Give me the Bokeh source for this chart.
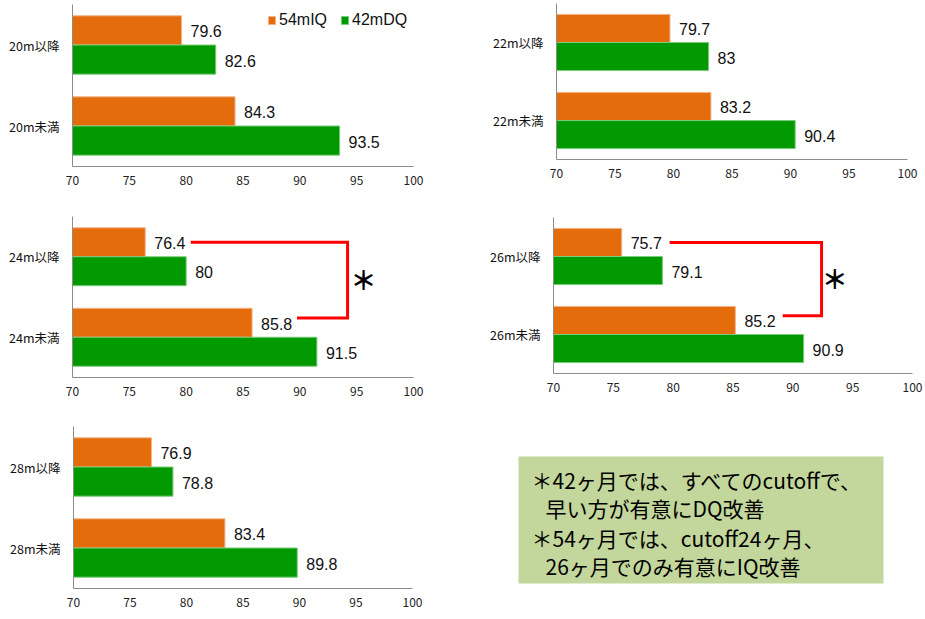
from bokeh.plotting import figure
from bokeh.layouts import row, column
from bokeh.models import Range1d, FixedTicker, Legend, LegendItem
from bokeh.embed import file_html
from bokeh.resources import INLINE
from bokeh.core.properties import value

# ---------------- data ----------------
cutoffs = ["20m", "22m", "24m", "26m", "28m"]
groups = ["未満", "以降"]                      # bottom -> top
series_names = ["54mIQ", "42mDQ"]
iq54_before = [84.3, 83.2, 85.8, 85.2, 83.4]   # 未満
iq54_after = [79.6, 79.7, 76.4, 75.7, 76.9]    # 以降
dq42_before = [93.5, 90.4, 91.5, 90.9, 89.8]
dq42_after = [82.6, 83.0, 80.0, 79.1, 78.8]
x_ticks = [70, 75, 80, 85, 90, 95, 100]
significant = [False, False, True, True, False]
bracket_x = [None, None, 94.2, 92.4, None]
star_x = [None, None, 95.6, 93.5, None]
note_lines = ["＊42ヶ月では、すべてのcutoffで、", "早い方が有意にDQ改善",
              "＊54ヶ月では、cutoff24ヶ月、", "26ヶ月でのみ有意にIQ改善"]

ORANGE = "#E46C0A"
GREEN = "#009900"
AXIS_GREY = "#8C8C8C"
JP = "Noto Sans CJK JP"
LAT = "Liberation Sans"

# panel geometry: width, height, borders (left, right, top, bottom)
geo = [
    dict(w=465, h=205, l=72, r=52, t=4, b=39),
    dict(w=460, h=205, l=91, r=18, t=3, b=46),
    dict(w=465, h=205, l=72, r=52, t=11, b=33),
    dict(w=460, h=205, l=88, r=13, t=12, b=37),
    dict(w=465, h=209, l=73, r=53, t=16, b=31),
]

HALF = 0.18


def panel(i):
    g = geo[i]
    p = figure(width=g["w"], height=g["h"], x_range=Range1d(70, 100),
               y_range=Range1d(0, len(groups)), output_backend="svg",
               toolbar_location=None, title=None,
               min_border_left=g["l"], min_border_right=g["r"],
               min_border_top=g["t"], min_border_bottom=g["b"])
    p.outline_line_color = None
    p.grid.visible = False
    p.background_fill_color = "white"
    p.border_fill_color = "white"

    centers = [k + 0.5 for k in range(len(groups))]
    orange_vals = [iq54_before[i], iq54_after[i]]
    green_vals = [dq42_before[i], dq42_after[i]]
    oy = [c + HALF for c in centers]
    gy = [c - HALF for c in centers]

    r_o = p.hbar(y=oy, left=70, right=orange_vals, height=2 * HALF,
                 fill_color=ORANGE, line_color="#F2B48A", line_width=1)
    r_g = p.hbar(y=gy, left=70, right=green_vals, height=2 * HALF,
                 fill_color=GREEN, line_color="#7ACB7A", line_width=1)

    lab = lambda v: ("%g" % v)
    p.text(x=orange_vals, y=oy, text=[lab(v) for v in orange_vals],
           x_offset=9, y_offset=1, text_baseline="middle", text_align="left",
           text_font=value(LAT), text_font_size="16px", text_color="#111111")
    p.text(x=green_vals, y=gy, text=[lab(v) for v in green_vals],
           x_offset=9, y_offset=1, text_baseline="middle", text_align="left",
           text_font=value(LAT), text_font_size="16px", text_color="#111111")

    if significant[i]:
        vx = bracket_x[i]
        y_up = oy[1]
        y_lo = oy[0] + 0.06
        p.line(x=[iq54_after[i] + 4.0, vx, vx, iq54_before[i] + 3.95],
               y=[y_up, y_up, y_lo, y_lo], line_color="#FF0000",
               line_width=3, line_join="miter")
        p.text(x=[star_x[i]], y=[(y_up + y_lo) / 2], text=["＊"],
               y_offset=-2, text_baseline="middle", text_align="center",
               text_font=value(JP), text_font_size="26px",
               text_font_style="bold", text_color="#000000")

    # x axis
    xa = p.xaxis[0]
    xa.ticker = FixedTicker(ticks=x_ticks)
    xa.axis_line_color = AXIS_GREY
    xa.major_tick_line_color = None
    xa.minor_tick_line_color = None
    xa.major_tick_out = 0
    xa.major_tick_in = 0
    xa.major_label_standoff = 9
    xa.major_label_text_font = JP
    xa.major_label_text_font_size = "12px"
    xa.major_label_text_color = "#222222"

    ya = p.yaxis[0]
    ya.ticker = FixedTicker(ticks=centers)
    ya.major_label_overrides = {c: cutoffs[i] + gname for c, gname in zip(centers, groups)}
    ya.axis_line_color = AXIS_GREY
    ya.major_tick_line_color = None
    ya.minor_tick_line_color = None
    ya.major_tick_out = 0
    ya.major_tick_in = 0
    ya.major_label_standoff = 13
    ya.major_label_text_font = JP
    ya.major_label_text_font_size = "12.5px"
    ya.major_label_text_color = "#111111"

    if i == 0:
        legend = Legend(items=[LegendItem(label=series_names[0], renderers=[r_o]),
                               LegendItem(label=series_names[1], renderers=[r_g])],
                        location=(195, 137), orientation="horizontal",
                        glyph_width=9, glyph_height=10, label_standoff=3,
                        spacing=13, padding=0, margin=0,
                        border_line_color=None, background_fill_alpha=0,
                        label_text_font=LAT, label_text_font_size="16px",
                        label_text_color="#111111")
        p.add_layout(legend)
    return p


panels = [panel(i) for i in range(5)]

# note box
nb = figure(width=460, height=209, x_range=Range1d(0, 460), y_range=Range1d(0, 209),
            output_backend="svg", toolbar_location=None, title=None,
            min_border_left=0, min_border_right=0, min_border_top=0,
            min_border_bottom=0)
nb.axis.visible = False
nb.grid.visible = False
nb.outline_line_color = None
nb.quad(left=53, right=418, bottom=36, top=163, fill_color="#C3D69B", line_color=None)
nb.text(x=[66, 80, 66, 80], y=[140, 112, 82, 54], text=note_lines,
        text_baseline="middle", text_align="left", text_font=value(JP),
        text_font_size="21px", text_color="#000000")

layout = column(row(column(panels[0]), column(panels[1])),
                row(column(panels[2]), column(panels[3])),
                row(column(panels[4]), column(nb)))

open("out.html", "w").write(file_html(layout, INLINE))
